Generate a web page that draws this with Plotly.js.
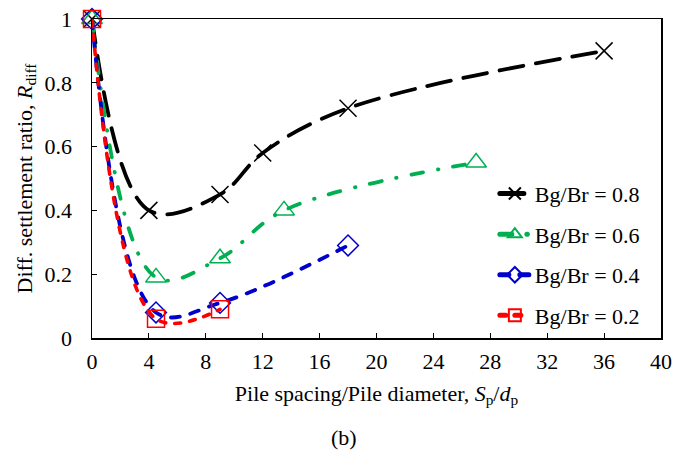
<!DOCTYPE html>
<html>
<head>
<meta charset="utf-8">
<script src="https://cdn.plot.ly/plotly-3.0.1.min.js"></script>
<style>
  html, body { margin: 0; padding: 0; background: #fff; }
  #chart { width: 688px; height: 450px; }
  /* rounded dash ends on the series lines */
  #chart .scatterlayer .js-line, #chart .legend .js-line { stroke-linecap: round; }
</style>
</head>
<body>
<div id="chart"></div>
<script>
// Differential settlement ratio vs. normalised pile spacing, one series per Bg/Br
const seriesNames = ['Bg/Br = 0.8', 'Bg/Br = 0.6', 'Bg/Br = 0.4', 'Bg/Br = 0.2'];

const spacing08 = [0, 4, 9, 12, 18, 36];
const ratio08   = [1, 0.40, 0.45, 0.58, 0.72, 0.90];

const spacing06 = [0, 4.5, 9, 13.5, 27];
const ratio06   = [1, 0.19, 0.25, 0.40, 0.55];

const spacing04 = [0, 4.5, 9, 18];
const ratio04   = [1, 0.08, 0.11, 0.29];

const spacing02 = [0, 4.5, 9];
const ratio02   = [1, 0.06, 0.09];

const xTicks = [0, 4, 8, 12, 16, 20, 24, 28, 32, 36, 40];
const yTicks = [0, 0.2, 0.4, 0.6, 0.8, 1];

const serif = 'Liberation Serif, Times New Roman, serif';
const fs = 22;

function series(name, xs, ys, color, dash, width, symbol, msize, group) {
  return {
    type: 'scatter',
    mode: 'lines+markers',
    name: name,
    legendgroup: group,
    x: xs,
    y: ys,
    cliponaxis: false,
    line: { color: color, width: width, dash: dash, shape: 'spline', smoothing: 1.05 },
    marker: {
      symbol: symbol,
      size: msize,
      color: color,
      line: { color: color, width: 1.5 }
    }
  };
}

const traces = [
  series(seriesNames[0], spacing08, ratio08, '#000000', '24px,13px', 3.8, 'x-thin-open', 17, 'g1'),
  series(seriesNames[1], spacing06, ratio06, '#00B050', '12px,15px,0.5px,15px', 3.8, 'triangle-up-open', 18, 'g2'),
  series(seriesNames[2], spacing04, ratio04, '#0000CC', '9px,11px', 3.8, 'diamond-open', 16, 'g3'),
  series(seriesNames[3], spacing02, ratio02, '#FF0000', '6px,9px', 3.6, 'square-open', 17, 'g4')
];

const layout = {
  width: 688,
  height: 450,
  margin: { l: 92, r: 27, t: 19, b: 112 },
  paper_bgcolor: '#ffffff',
  plot_bgcolor: '#ffffff',
  font: { family: serif, size: fs, color: '#000000' },
  showlegend: true,
  legend: {
    x: 0.708, xanchor: 'left',
    y: 0.518, yanchor: 'top',
    bgcolor: 'rgba(0,0,0,0)',
    borderwidth: 0,
    traceorder: 'grouped',
    tracegroupgap: 9,
    itemsizing: 'constant',
    font: { family: serif, size: fs, color: '#000000' }
  },
  xaxis: {
    range: [0, 40],
    tickvals: xTicks,
    ticktext: xTicks.map(String),
    ticks: 'inside',
    ticklen: 5,
    tickwidth: 1,
    tickcolor: '#000000',
    showline: true,
    linecolor: '#000000',
    linewidth: 1.5,
    mirror: true,
    showgrid: false,
    zeroline: false,
    ticklabelstandoff: 3,
    tickfont: { family: serif, size: fs },
    title: {
      text: 'Pile spacing/Pile diameter, <i>S</i><sub>p</sub>/<i>d</i><sub>p</sub>',
      font: { family: serif, size: fs },
      standoff: 12
    }
  },
  yaxis: {
    range: [0, 1],
    tickvals: yTicks,
    ticktext: yTicks.map(String),
    ticks: 'inside',
    ticklen: 5,
    tickwidth: 1,
    tickcolor: '#000000',
    showline: true,
    linecolor: '#000000',
    linewidth: 1.5,
    mirror: true,
    showgrid: false,
    zeroline: false,
    ticklabelstandoff: 14,
    tickfont: { family: serif, size: fs },
    title: {
      text: 'Diff. settlement ratio, <i>R</i><sub>diff</sub>',
      font: { family: serif, size: fs },
      standoff: 6
    }
  },
  annotations: [{
    text: '(b)',
    xref: 'paper', yref: 'paper',
    x: 0, y: 0,
    showarrow: false,
    font: { family: serif, size: fs, color: '#000000' }
  }]
};

// place "(b)" centred under the whole figure
const plotW = 688 - 92 - 27;
const plotH = 450 - 19 - 112;
layout.annotations[0].x = (344 - 92) / plotW;
layout.annotations[0].y = (337.7 - 437) / plotH;
layout.annotations[0].xanchor = 'center';
layout.annotations[0].yanchor = 'middle';

Plotly.newPlot('chart', traces, layout, { displayModeBar: false, staticPlot: true });
</script>
</body>
</html>
